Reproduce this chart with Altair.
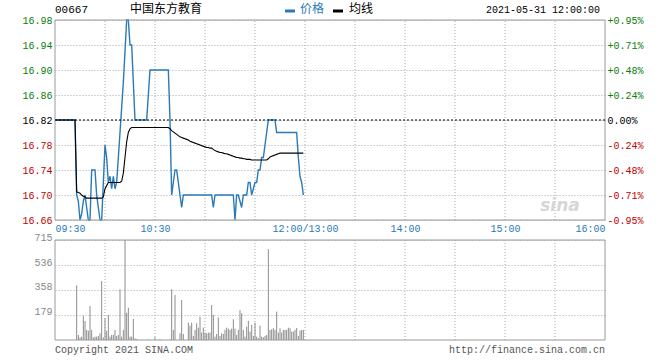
import altair as alt
import pandas as pd

PREV_CLOSE = 16.82

# minute index from 09:30 (0) ; 12:00/13:00 at 150 ; 16:00 at 330
price = [
    16.82, 16.82, 16.82, 16.82, 16.82, 16.82, 16.82, 16.82, 16.82, 16.82, 16.82, 16.82, 16.82,
    16.70, 16.69, 16.66, 16.67, 16.69, 16.70, 16.68, 16.66, 16.66, 16.74, 16.74, 16.74,
    16.70, 16.68, 16.66, 16.66, 16.72, 16.78, 16.76, 16.72, 16.73, 16.71, 16.73, 16.71,
    16.72, 16.76, 16.80, 16.84, 16.88, 16.93, 16.98, 16.98, 16.94, 16.94, 16.88, 16.82,
    16.82, 16.82, 16.82, 16.82, 16.82, 16.82, 16.82,
    16.86,
    16.90, 16.90, 16.90, 16.90, 16.90, 16.90, 16.90, 16.90, 16.90, 16.90, 16.90, 16.90,
    16.82, 16.70, 16.72, 16.74, 16.74, 16.72, 16.70, 16.68,
    16.70, 16.70, 16.70, 16.70, 16.70, 16.70, 16.70, 16.70, 16.70, 16.70, 16.70, 16.70,
    16.70, 16.70, 16.70, 16.70, 16.70, 16.70,
    16.68,
    16.70, 16.70, 16.70, 16.70, 16.70, 16.70, 16.70, 16.70, 16.70, 16.70, 16.70, 16.70,
    16.66, 16.70, 16.70, 16.69, 16.68, 16.70, 16.70, 16.70, 16.72, 16.72, 16.70, 16.71,
    16.72, 16.72, 16.74, 16.74, 16.76, 16.76, 16.78, 16.80,
    16.82, 16.82, 16.82, 16.82, 16.82,
    16.80, 16.80, 16.80, 16.80, 16.80, 16.80, 16.80, 16.80, 16.80, 16.80, 16.80, 16.80, 16.80,
    16.76, 16.73, 16.72, 16.70,
]

avg = [
    16.82, 16.82, 16.82, 16.82, 16.82, 16.82, 16.82, 16.82, 16.82, 16.82, 16.82, 16.82, 16.82,
    16.705, 16.704, 16.703, 16.700, 16.698, 16.697,
    16.695, 16.695, 16.695, 16.695, 16.695, 16.695, 16.695, 16.695, 16.695, 16.695,
    16.697, 16.710, 16.715,
    16.720, 16.720, 16.720, 16.720, 16.720, 16.720, 16.720, 16.720,
    16.722, 16.735, 16.760, 16.785, 16.800, 16.806,
    16.808, 16.808, 16.808, 16.808, 16.808, 16.808, 16.808, 16.808, 16.808, 16.808, 16.808, 16.808,
    16.808, 16.808, 16.808, 16.808, 16.808, 16.808, 16.808, 16.808, 16.808, 16.808, 16.808,
    16.806, 16.803, 16.801, 16.799, 16.797, 16.795, 16.793, 16.792, 16.791, 16.790,
    16.789, 16.788, 16.786, 16.785, 16.784, 16.783, 16.782, 16.781, 16.780, 16.779,
    16.778, 16.777, 16.776, 16.776, 16.775, 16.775, 16.773, 16.771, 16.770, 16.769,
    16.768, 16.768, 16.767, 16.766, 16.766, 16.765, 16.764, 16.763, 16.762, 16.761,
    16.760, 16.760, 16.759, 16.759, 16.758, 16.758, 16.757, 16.757, 16.757, 16.756,
    16.756, 16.756,
    16.756, 16.756, 16.756, 16.756, 16.756, 16.756, 16.756,
    16.758, 16.761, 16.762, 16.763, 16.764, 16.765, 16.766, 16.767, 16.767,
    16.767, 16.767, 16.767, 16.767, 16.767, 16.767, 16.767, 16.767, 16.767, 16.767, 16.767,
    16.767, 16.767,
]

volume = [
    0, 0, 0, 0, 0, 0, 0, 0, 0, 0, 0, 0, 0,
    390, 36, 19, 24, 172, 136, 72, 67, 243, 72, 19, 24, 24, 29, 48, 422, 19, 155,
    64, 179, 24, 36, 36, 72, 29, 36, 362, 24, 72, 715, 195, 231, 24, 24, 150, 12,
    7, 0, 0, 0, 0, 0, 0, 5, 0, 0, 0, 20, 0, 0, 5, 0, 0, 0, 0, 0, 5,
    362, 72, 322, 0, 0, 48, 286, 43, 0, 0,
    124, 102, 124, 29, 72, 119, 88, 167, 53, 88, 53, 48, 53, 53, 250, 179, 24, 43,
    160, 29, 48, 43, 72, 88, 81, 72, 81, 148, 81, 36, 72, 215, 191, 72, 24, 95,
    138, 60, 107, 29, 124, 24, 14, 102, 24, 19, 29, 36, 650, 72, 76, 84, 72, 203,
    53, 84, 53, 72, 72, 72, 88, 84, 60, 60, 72, 86, 29, 67, 72, 72,
]

minute = list(range(len(price)))

price_ticks = [16.66, 16.70, 16.74, 16.78, 16.82, 16.86, 16.90, 16.94, 16.98]
pct_labels = ["-0.95%", "-0.71%", "-0.48%", "-0.24%", "0.00%", "+0.24%", "+0.48%", "+0.71%", "+0.95%"]
volume_ticks = [179, 358, 536, 715]
time_ticks = [0, 60, 150, 210, 270, 330]
time_labels = ["09:30", "10:30", "12:00/13:00", "14:00", "15:00", "16:00"]
grid_minutes = [30, 60, 90, 120, 150, 180, 210, 240, 270, 300]
series_names = ["价格", "均线"]

MONO = "Liberation Mono"
CJK = "Noto Sans CJK SC"
BLUE = "#2a7ab8"
GREEN = "#0a7d0a"
RED = "#c00000"
GRID = "#a8a8a8"
FRAME = "#9a9a9a"

lines_df = pd.DataFrame({
    "minute": minute + minute,
    "value": price + avg,
    "series": [series_names[0]] * len(price) + [series_names[1]] * len(avg),
})
vol_df = pd.DataFrame({"minute": minute, "volume": volume, "zero": [0] * len(volume)})
pgrid_df = pd.DataFrame({"minute": grid_minutes, "lo": price_ticks[0], "hi": price_ticks[-1]})
vgrid_df = pd.DataFrame({"minute": grid_minutes, "lo": 0, "hi": volume_ticks[-1]})
pframe_df = pd.DataFrame({"x0": [time_ticks[0]], "x1": [time_ticks[-1]], "y0": [price_ticks[0]], "y1": [price_ticks[-1]]})
vframe_df = pd.DataFrame({"x0": [time_ticks[0]], "x1": [time_ticks[-1]], "y0": [0], "y1": [volume_ticks[-1]]})
ref_df = pd.DataFrame({"v": [PREV_CLOSE]})

xscale = alt.Scale(domain=[time_ticks[0], time_ticks[-1]], nice=False, zero=False)
time_expr = " : ".join(f"datum.value == {m} ? '{l}'" for m, l in zip(time_ticks, time_labels)) + " : ''"
xaxis = alt.Axis(values=time_ticks, labelExpr=time_expr, orient="bottom", offset=-120, grid=False,
                 ticks=False, domain=False, labelColor=BLUE, labelFont=MONO, labelFontSize=10,
                 labelPadding=3, title=None, labelOverlap=False, labelFlush=True)

price_color = {"condition": [{"test": f"datum.value > {PREV_CLOSE + 0.005}", "value": GREEN},
                             {"test": f"datum.value < {PREV_CLOSE - 0.005}", "value": RED}],
               "value": "black"}

pscale = alt.Scale(domain=[price_ticks[0], price_ticks[-1]], range=[200, 0], nice=False, zero=False)
paxis = alt.Axis(values=price_ticks, orient="left", title=None, grid=True, gridColor=GRID,
                 gridDash=[1, 2], ticks=False, domain=False, labelFont=MONO, labelFontSize=10,
                 labelPadding=3, labelColor=price_color, format=".2f", labelOverlap=False)
pct_expr = " : ".join(f"abs(datum.value - {v}) < 0.001 ? '{l}'" for v, l in zip(price_ticks, pct_labels)) + " : ''"
pctaxis = alt.Axis(values=price_ticks, orient="right", title=None, grid=False, ticks=False,
                   domain=False, labelFont=MONO, labelFontSize=10, labelPadding=2,
                   labelColor=price_color, labelExpr=pct_expr, labelOverlap=False)

vscale = alt.Scale(domain=[0, volume_ticks[-1]], range=[320, 220], nice=False)
vaxis = alt.Axis(values=volume_ticks, orient="left", title=None, grid=True, gridColor=GRID,
                 gridDash=[1, 2], ticks=False, domain=False, labelFont=MONO, labelFontSize=10,
                 labelPadding=3, labelColor="#888888", labelBaseline="alphabetic", labelOverlap=False)

X = lambda f: alt.X(f, type="quantitative", scale=xscale, axis=xaxis)

# price panel
pgrid = alt.Chart(pgrid_df).mark_rule(color=GRID, strokeDash=[1, 2], strokeWidth=1).encode(
    x=X("minute"), y=alt.Y("lo:Q", scale=pscale, axis=paxis), y2="hi:Q")
lines = alt.Chart(lines_df).mark_line(interpolate="linear").encode(
    x=X("minute"), y=alt.Y("value:Q", scale=pscale, axis=paxis),
    color=alt.Color("series:N", scale=alt.Scale(domain=series_names, range=[BLUE, "black"]), legend=None),
    strokeWidth=alt.StrokeWidth("series:N", scale=alt.Scale(domain=series_names, range=[1.4, 1.1]), legend=None),
    order=alt.Order("series:N", sort="descending"),
    detail="series:N",
)
pframe = alt.Chart(pframe_df).mark_rect(fill=None, stroke=FRAME, strokeWidth=1).encode(
    x=X("x0"), x2="x1:Q", y=alt.Y("y0:Q", scale=pscale, axis=paxis), y2="y1:Q")
price_group = alt.layer(pgrid, lines, pframe)

# percentage axis + previous close line
ref = alt.Chart(ref_df).mark_rule(color="black", strokeDash=[2, 2], strokeWidth=1).encode(
    y=alt.Y("v:Q", scale=pscale, axis=pctaxis))

# volume panel
vgrid = alt.Chart(vgrid_df).mark_rule(color=GRID, strokeDash=[1, 2], strokeWidth=1).encode(
    x=X("minute"), y=alt.Y("lo:Q", scale=vscale, axis=vaxis), y2="hi:Q")
bars = alt.Chart(vol_df).mark_rule(color="#8c8c8c", strokeWidth=1).encode(
    x=X("minute"), y=alt.Y("volume:Q", scale=vscale, axis=vaxis), y2="zero:Q")
vframe = alt.Chart(vframe_df).mark_rect(fill=None, stroke=FRAME, strokeWidth=1).encode(
    x=X("x0"), x2="x1:Q", y=alt.Y("y0:Q", scale=vscale, axis=vaxis), y2="y1:Q")
vol_group = alt.layer(vgrid, bars, vframe)


def note(txt, x, y, font=MONO, size=10, color="black", align="left", **kw):
    return alt.Chart(pd.DataFrame({"t": [txt]})).mark_text(
        font=font, fontSize=size, color=color, align=align, baseline="alphabetic", **kw
    ).encode(text="t:N", x=alt.value(x), y=alt.value(y))


legend_price_bar = alt.Chart(pd.DataFrame({"s": [series_names[0]]})).mark_rule(color=BLUE, strokeWidth=3).encode(
    x=alt.value(230), x2=alt.value(240), y=alt.value(-9))
legend_avg_bar = alt.Chart(pd.DataFrame({"s": [series_names[1]]})).mark_rule(color="black", strokeWidth=3).encode(
    x=alt.value(278), x2=alt.value(288), y=alt.value(-9))

annotations = alt.layer(
    note("00667", 0, -7, size=11),
    note("中国东方教育", 75, -7, font=CJK, size=12),
    legend_price_bar,
    note(series_names[0], 245, -7, font=CJK, size=12, color=BLUE),
    legend_avg_bar,
    note(series_names[1], 294, -7, font=CJK, size=12),
    note("2021-05-31 12:00:00", 545, -7, align="right"),
    note("Copyright 2021 SINA.COM", 0, 333, color="#555555"),
    note("http://finance.sina.com.cn", 550, 333, align="right", color="#555555"),
    note("sina", 505, 191, font="DejaVu Sans", size=17, color="#d6d6d6", align="center",
         fontStyle="italic", fontWeight="bold"),
)

chart = alt.layer(price_group, ref, vol_group, annotations).resolve_scale(y="independent").properties(
    width=550, height=320,
    autosize=alt.AutoSizeParams(type="none"),
    padding={"left": 55, "top": 20, "right": 55, "bottom": 20},
    background="white",
).configure_view(stroke=None)

chart.save("out.html", embed_options={"renderer": "svg", "actions": False})
